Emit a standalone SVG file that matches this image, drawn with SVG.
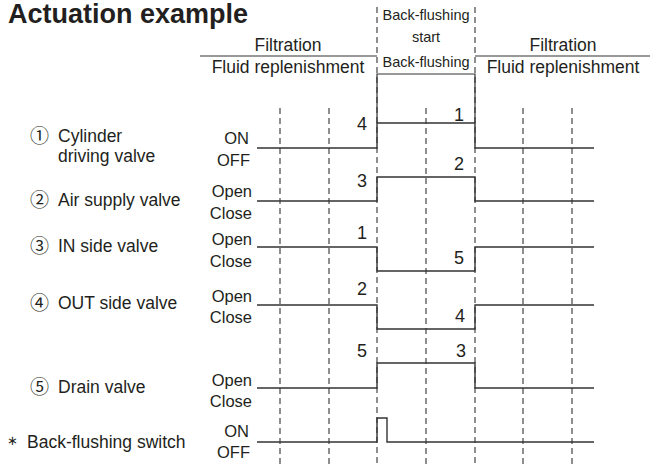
<svg xmlns="http://www.w3.org/2000/svg" width="650" height="466" viewBox="0 0 650 466">
<style>
text{font-family:"Liberation Sans","DejaVu Sans","Noto Sans CJK JP",sans-serif;fill:#231f20}
.title{font-size:27px;font-weight:bold}
.hd{font-size:17.5px;text-anchor:middle}
.hm{font-size:14.5px;text-anchor:middle}
.lb{font-size:17.5px}
.cn{font-size:19px;font-family:"Noto Sans CJK JP","DejaVu Sans",sans-serif}
.st{font-size:16.5px;text-anchor:end}
.dg{font-size:18px;text-anchor:middle}
.dash{stroke:#333;stroke-width:1.1;stroke-dasharray:6 4;fill:none}
.sig{stroke:#333;stroke-width:1.4;fill:none}
.rule{stroke:#333;stroke-width:1.2;fill:none}
</style>
<rect width="650" height="466" fill="#fff"/>
<text class="title" x="8" y="22.5">Actuation example</text>
<g id="header">
<path class="rule" d="M200,56H377M475,56H650"/>
<text class="hd" x="288" y="51">Filtration</text>
<text class="hd" x="288" y="73">Fluid replenishment</text>
<text class="hm" x="426" y="20">Back-flushing</text>
<text class="hm" x="426" y="42">start</text>
<text class="hm" x="426" y="67">Back-flushing</text>
<text class="hd" x="563" y="51">Filtration</text>
<text class="hd" x="563" y="73">Fluid replenishment</text>
</g>
<g id="gridlines">
<path class="dash" d="M280,108V466M329,108V466M426,108V466M523,108V466M572,108V466M377,7V466M475,7V466"/>
<path class="rule" d="M377,123V74H475V123"/>
</g>
<g id="row1">
<text class="cn" x="30" y="143">①</text>
<text class="lb" x="58" y="142">Cylinder</text>
<text class="lb" x="58" y="162">driving valve</text>
<text class="st" x="249" y="144">ON</text>
<text class="st" x="250" y="166">OFF</text>
<path class="sig" d="M257,148H377V123H475V148H594"/>
<text class="dg" x="362" y="130">4</text>
<text class="dg" x="459" y="121">1</text>
</g>
<g id="row2">
<text class="cn" x="30" y="207">②</text>
<text class="lb" x="58" y="206">Air supply valve</text>
<text class="st" x="252" y="197">Open</text>
<text class="st" x="252" y="219">Close</text>
<path class="sig" d="M257,201H377V177H475V201H594"/>
<text class="dg" x="362" y="187">3</text>
<text class="dg" x="459" y="170">2</text>
</g>
<g id="row3">
<text class="cn" x="30" y="253">③</text>
<text class="lb" x="58" y="252">IN side valve</text>
<text class="st" x="252" y="245">Open</text>
<text class="st" x="252" y="267">Close</text>
<path class="sig" d="M257,247H377V271H475V247H594"/>
<text class="dg" x="362" y="239">1</text>
<text class="dg" x="459" y="264">5</text>
</g>
<g id="row4">
<text class="cn" x="30" y="310">④</text>
<text class="lb" x="58" y="309">OUT side valve</text>
<text class="st" x="252" y="302">Open</text>
<text class="st" x="252" y="323">Close</text>
<path class="sig" d="M257,305H377V329H475V305H594"/>
<text class="dg" x="362" y="295">2</text>
<text class="dg" x="460" y="322">4</text>
</g>
<g id="row5">
<text class="cn" x="30" y="394">⑤</text>
<text class="lb" x="58" y="393">Drain valve</text>
<text class="st" x="252" y="386">Open</text>
<text class="st" x="252" y="407">Close</text>
<path class="sig" d="M257,388H377V363H475V388H594"/>
<text class="dg" x="362" y="357">5</text>
<text class="dg" x="461" y="357">3</text>
</g>
<g id="switch">
<text x="7" y="445" font-size="13" fill="#555">∗</text>
<text class="lb" x="27" y="448">Back-flushing switch</text>
<text class="st" x="249" y="437">ON</text>
<text class="st" x="250" y="458">OFF</text>
<path class="sig" d="M257,442H377V418H387V442H594"/>
</g>
</svg>
